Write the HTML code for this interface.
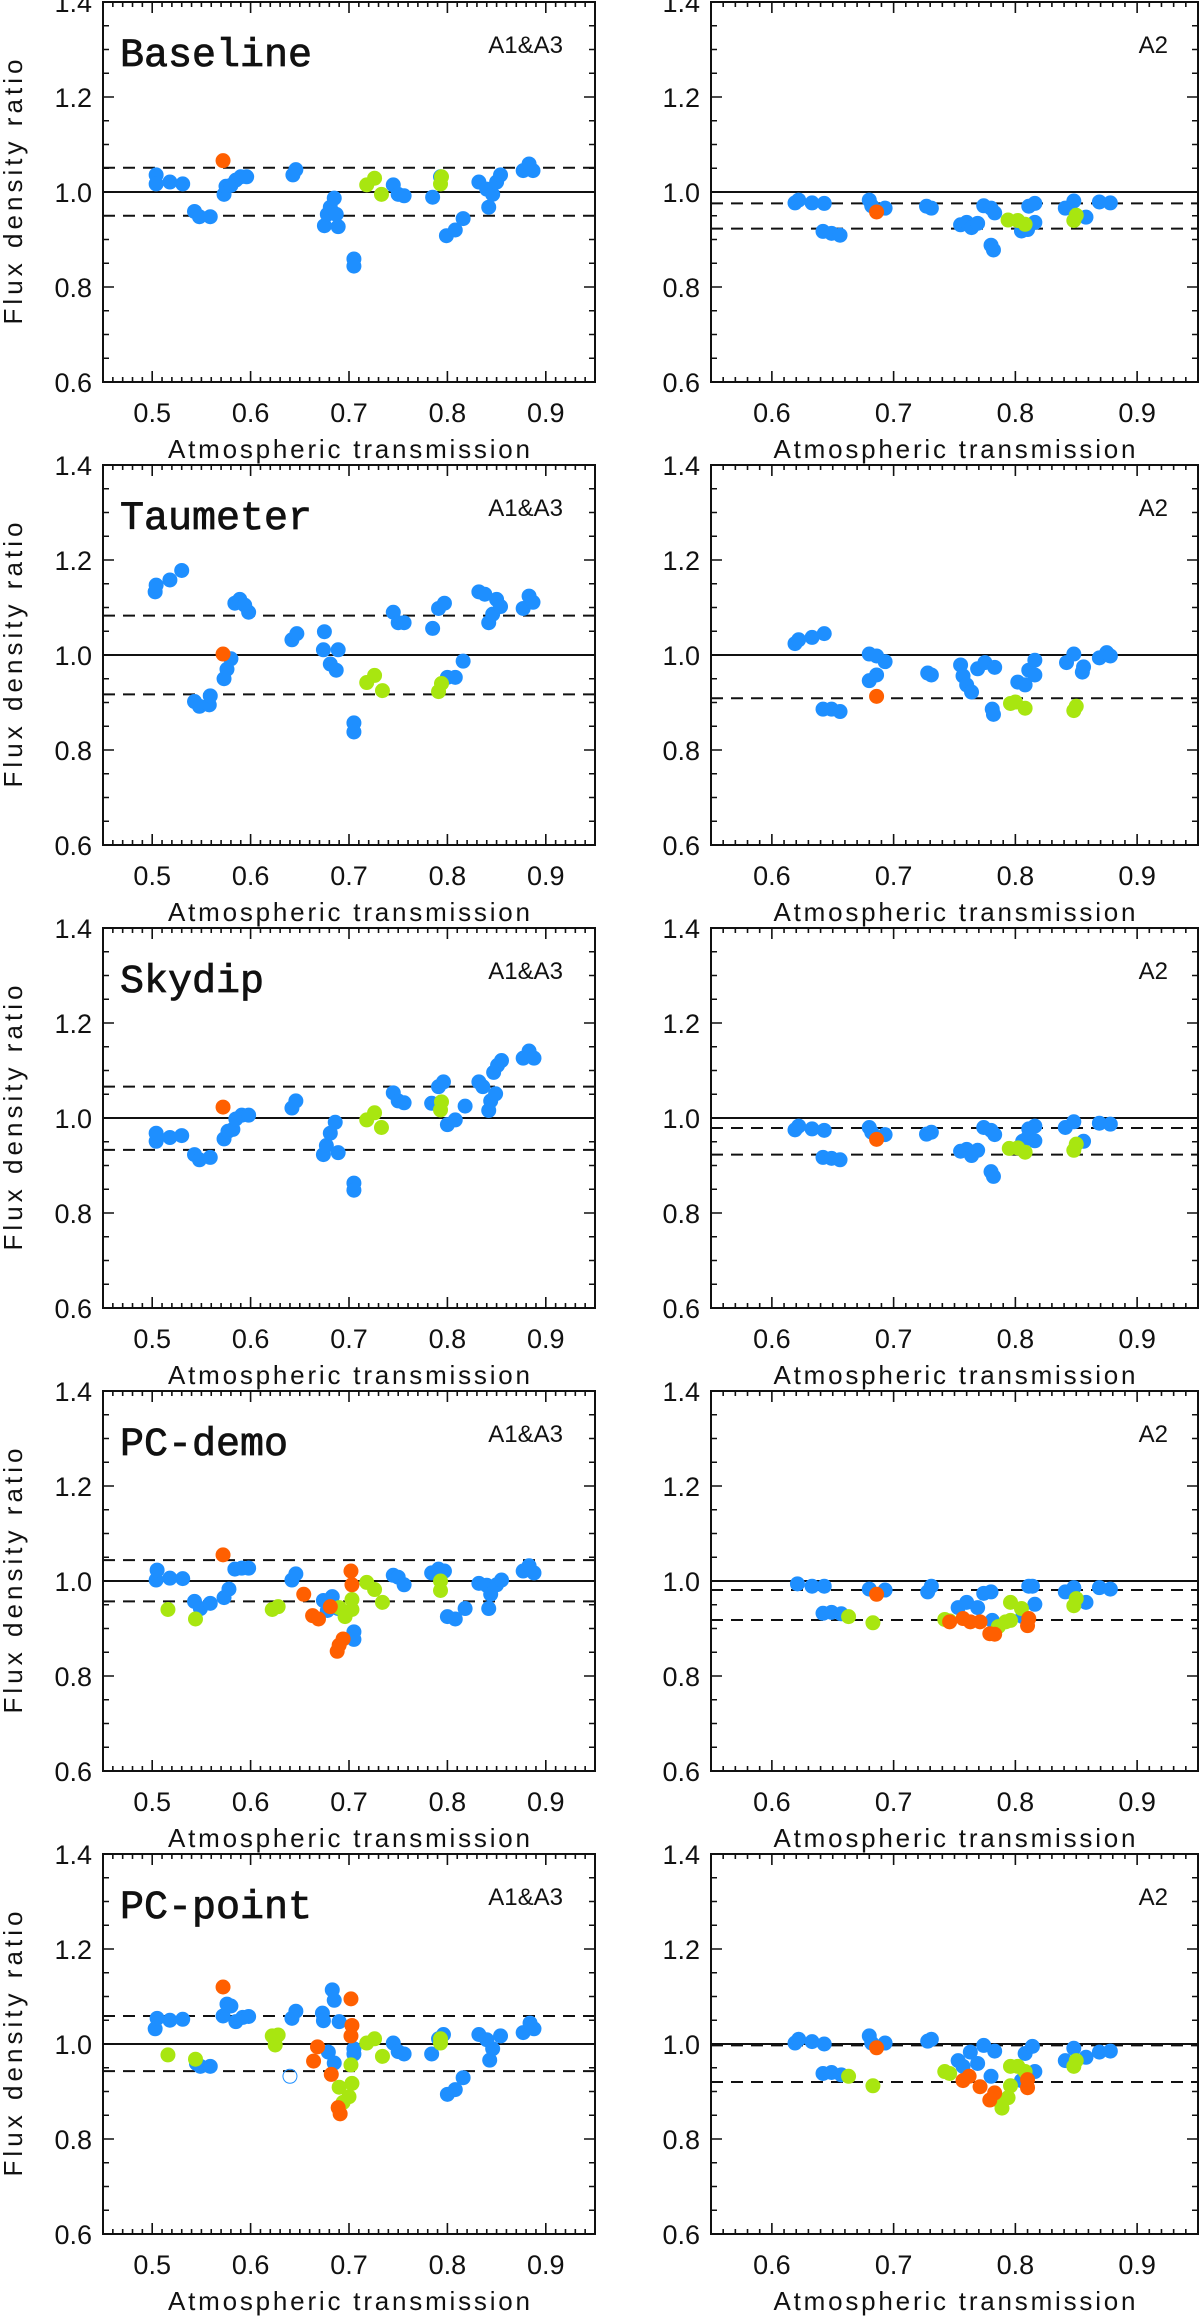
<!DOCTYPE html>
<html><head><meta charset="utf-8"><title>Flux density ratio vs atmospheric transmission</title>
<style>html,body{margin:0;padding:0;background:#fff}svg{display:block}</style></head>
<body>
<svg id="fig" xmlns="http://www.w3.org/2000/svg" width="1200" height="2316" viewBox="0 0 1200 2316"></svg>
<script>
// ---------- DATA ----------
const yTicks = [0.6, 0.8, 1.0, 1.2, 1.4];
const yTickLabels = ["0.6", "0.8", "1.0", "1.2", "1.4"];
const xTicksLeft = [0.5, 0.6, 0.7, 0.8, 0.9];
const xTickLabelsLeft = ["0.5", "0.6", "0.7", "0.8", "0.9"];
const xTicksRight = [0.6, 0.7, 0.8, 0.9];
const xTickLabelsRight = ["0.6", "0.7", "0.8", "0.9"];
const panelTitles = ["Baseline", "Taumeter", "Skydip", "PC-demo", "PC-point"];

// Row 1 Baseline A1&A3
const baseL_blue = [[.504,1.036],[.504,1.017],[.518,1.021],[.531,1.017],[.543,.959],[.548,.948],[.559,.948],[.573,.995],[.575,1.012],[.580,1.014],[.585,1.025],[.590,1.032],[.596,1.032],[.643,1.036],[.646,1.047],[.675,.929],[.678,.953],[.681,.968],[.685,.987],[.687,.953],[.689,.927],[.705,.859],[.705,.844],[.745,1.015],[.750,.995],[.756,.992],[.785,.989],[.793,1.032],[.799,.908],[.808,.920],[.816,.944],[.832,1.021],[.840,1.006],[.842,.968],[.846,.995],[.850,1.021],[.854,1.036],[.877,1.045],[.883,1.059],[.887,1.045]];
const baseL_orange = [[.572,1.066]];
const baseL_green = [[.718,1.015],[.726,1.029],[.733,.995],[.793,1.017],[.794,1.032]];
const baseL_dash = [1.051, .950];
// Row 1 Baseline A2
const baseR_blue = [[.619,.977],[.622,.983],[.633,.977],[.643,.976],[.642,.917],[.649,.913],[.656,.909],[.680,.983],[.682,.971],[.693,.966],[.727,.970],[.731,.966],[.755,.931],[.760,.936],[.764,.925],[.769,.934],[.774,.971],[.780,.966],[.783,.956],[.780,.888],[.782,.878],[.805,.918],[.810,.921],[.811,.970],[.816,.976],[.816,.936],[.841,.966],[.848,.981],[.858,.947],[.869,.979],[.878,.977]];
const baseR_orange = [[.686,.958]];
const baseR_green = [[.794,.941],[.802,.940],[.808,.932],[.848,.940],[.850,.951]];
const baseR_dash = [.976, .923];

// Row 2 Taumeter A1&A3
const tauL_blue = [[.503,1.133],[.504,1.147],[.518,1.158],[.530,1.178],[.543,.902],[.548,.892],[.558,.895],[.559,.914],[.573,.950],[.576,.970],[.580,.992],[.584,1.109],[.589,1.117],[.594,1.105],[.598,1.090],[.642,1.032],[.647,1.045],[.675,1.049],[.674,1.011],[.681,.981],[.687,.968],[.689,1.011],[.705,.857],[.705,.838],[.745,1.090],[.750,1.068],[.756,1.068],[.785,1.056],[.791,1.098],[.797,1.109],[.800,.953],[.808,.953],[.816,.987],[.832,1.133],[.838,1.128],[.842,1.068],[.846,1.086],[.850,1.117],[.854,1.102],[.877,1.098],[.883,1.124],[.887,1.111]];
const tauL_orange = [[.572,1.002]];
const tauL_green = [[.718,.942],[.726,.957],[.734,.925],[.791,.923],[.794,.940]];
const tauL_dash = [1.083, .917];
// Row 2 Taumeter A2
const tauR_blue = [[.619,1.024],[.622,1.032],[.633,1.037],[.643,1.045],[.642,.886],[.649,.886],[.656,.881],[.680,1.002],[.686,.998],[.693,.986],[.680,.946],[.686,.958],[.728,.962],[.731,.958],[.755,.979],[.757,.956],[.760,.937],[.764,.922],[.769,.971],[.775,.984],[.783,.974],[.781,.886],[.782,.875],[.802,.943],[.808,.937],[.811,.968],[.816,.989],[.816,.958],[.842,.984],[.848,1.002],[.856,.975],[.855,.964],[.869,.994],[.875,1.005],[.878,.998]];
const tauR_orange = [[.686,.913]];
const tauR_green = [[.796,.898],[.800,.901],[.808,.888],[.848,.883],[.850,.892]];
const tauR_dash = [.909];

// Row 3 Skydip A1&A3
const skyL_blue = [[.504,.951],[.504,.968],[.518,.959],[.530,.963],[.543,.923],[.548,.912],[.559,.917],[.573,.956],[.577,.972],[.582,.976],[.585,.998],[.591,1.006],[.598,1.006],[.642,1.021],[.646,1.036],[.674,.923],[.677,.942],[.681,.968],[.686,.991],[.689,.927],[.705,.863],[.705,.848],[.745,1.053],[.750,1.036],[.756,1.032],[.784,1.031],[.791,1.066],[.796,1.076],[.800,.986],[.808,.996],[.818,1.025],[.832,1.076],[.836,1.066],[.842,1.016],[.844,1.036],[.849,1.051],[.847,1.096],[.851,1.111],[.855,1.121],[.877,1.126],[.883,1.141],[.888,1.126]];
const skyL_orange = [[.572,1.023]];
const skyL_green = [[.718,.996],[.726,1.011],[.733,.980],[.793,1.017],[.794,1.034]];
const skyL_dash = [1.066, .933];
// Row 3 Skydip A2
const skyR_blue = [[.619,.975],[.622,.983],[.633,.977],[.643,.974],[.642,.917],[.649,.915],[.656,.912],[.680,.980],[.682,.970],[.693,.965],[.727,.966],[.731,.970],[.755,.930],[.760,.934],[.764,.921],[.769,.932],[.774,.980],[.780,.974],[.783,.965],[.780,.887],[.782,.877],[.806,.951],[.810,.958],[.811,.977],[.816,.983],[.816,.952],[.841,.980],[.848,.992],[.856,.951],[.869,.989],[.878,.987]];
const skyR_orange = [[.686,.955]];
const skyR_green = [[.795,.936],[.802,.937],[.808,.928],[.848,.932],[.850,.945]];
const skyR_dash = [.979, .923];

// Row 4 PC-demo A1&A3
const demoL_blue = [[.504,1.002],[.505,1.023],[.518,1.006],[.531,1.005],[.543,.957],[.549,.942],[.559,.953],[.573,.965],[.578,.983],[.584,1.025],[.591,1.027],[.598,1.027],[.642,1.002],[.646,1.015],[.674,.959],[.678,.938],[.683,.967],[.689,.942],[.705,.893],[.705,.877],[.745,1.012],[.750,1.008],[.756,.992],[.784,1.017],[.791,1.025],[.797,1.021],[.800,.925],[.808,.920],[.818,.942],[.832,.995],[.840,.991],[.842,.942],[.844,.972],[.850,.992],[.855,1.002],[.877,1.021],[.883,1.032],[.888,1.017]];
const demoL_orange = [[.572,1.055],[.654,.972],[.663,.927],[.669,.920],[.681,.946],[.688,.852],[.690,.865],[.694,.878],[.702,1.021],[.703,.992]];
const demoL_green = [[.516,.940],[.544,.920],[.622,.940],[.628,.946],[.690,.944],[.696,.925],[.703,.961],[.703,.940],[.718,.997],[.726,.982],[.734,.955],[.793,1.000],[.793,.980]];
const demoL_dash = [1.044, .957];
// Row 4 PC-demo A2
const demoR_blue = [[.621,.994],[.633,.989],[.643,.989],[.642,.932],[.649,.934],[.657,.931],[.680,.983],[.693,.981],[.728,.977],[.731,.989],[.753,.944],[.760,.955],[.769,.944],[.774,.974],[.780,.977],[.781,.917],[.806,.925],[.811,.989],[.814,.989],[.816,.951],[.841,.977],[.848,.986],[.858,.955],[.869,.986],[.878,.983]];
const demoR_orange = [[.686,.972],[.746,.914],[.757,.921],[.763,.914],[.771,.914],[.779,.889],[.783,.888],[.810,.906],[.811,.921]];
const demoR_green = [[.663,.925],[.683,.912],[.742,.919],[.746,.916],[.786,.904],[.792,.914],[.796,.955],[.796,.917],[.805,.942],[.848,.948],[.850,.963]];
const demoR_dash = [.981, .918];

// Row 5 PC-point A1&A3
const pointL_blue = [[.503,1.032],[.505,1.054],[.518,1.050],[.531,1.052],[.545,.959],[.549,.953],[.559,.953],[.572,1.059],[.576,1.084],[.580,1.080],[.585,1.047],[.592,1.056],[.598,1.058],[.642,1.054],[.646,1.069],[.673,1.065],[.674,1.049],[.683,1.114],[.685,1.092],[.679,.983],[.685,.960],[.690,1.047],[.705,.990],[.705,.979],[.745,1.002],[.750,.984],[.756,.979],[.784,.979],[.791,1.011],[.796,1.020],[.800,.894],[.808,.904],[.816,.929],[.832,1.020],[.840,1.009],[.843,.966],[.846,.990],[.854,1.017],[.877,1.024],[.884,1.044],[.888,1.032]];
const pointL_orange = [[.572,1.120],[.664,.964],[.668,.994],[.682,.936],[.689,.866],[.691,.853],[.702,1.095],[.703,1.039],[.702,1.017]];
const pointL_green = [[.516,.977],[.544,.968],[.622,1.017],[.625,.998],[.628,1.019],[.690,.909],[.694,.877],[.700,.889],[.703,.917],[.702,.956],[.718,1.002],[.726,1.011],[.734,.974],[.793,1.011],[.793,1.002]];
const pointL_open = [[.640,.932]];
const pointL_dash = [1.059, .943];
// Row 5 PC-point A2
const pointR_blue = [[.619,1.002],[.622,1.010],[.633,1.005],[.643,1.000],[.642,.938],[.649,.940],[.657,.935],[.680,1.017],[.682,1.002],[.693,1.002],[.728,1.006],[.731,1.010],[.753,.965],[.757,.953],[.763,.983],[.769,.959],[.774,.997],[.783,.985],[.780,.932],[.805,.923],[.808,.980],[.814,.995],[.816,.942],[.841,.965],[.848,.991],[.858,.972],[.869,.983],[.878,.985]];
const pointR_orange = [[.686,.992],[.757,.923],[.762,.932],[.771,.910],[.779,.882],[.783,.897],[.810,.908],[.810,.925]];
const pointR_green = [[.663,.932],[.683,.912],[.742,.942],[.746,.938],[.786,.882],[.789,.865],[.794,.887],[.796,.912],[.796,.953],[.802,.953],[.808,.942],[.848,.953],[.850,.965]];
const pointR_dash = [.997, .920];

// ---------- DRAWING ----------
const NS = "http://www.w3.org/2000/svg";
const svg = document.getElementById("fig");
const BLUE = "#1e8fff", ORANGE = "#ff5f00", GREEN = "#a8e610";
function mk(tag, attrs, parent) {
  const e = document.createElementNS(NS, tag);
  for (const k in attrs) e.setAttribute(k, attrs[k]);
  (parent || svg).appendChild(e);
  return e;
}
const cols = [
  {x0: 103, x1: 595, xmin: 0.45, xmax: 0.95, ticks: xTicksLeft, labels: xTickLabelsLeft, tag: "A1&A3", tagX: 563},
  {x0: 711, x1: 1198, xmin: 0.55, xmax: 0.95, ticks: xTicksRight, labels: xTickLabelsRight, tag: "A2", tagX: 1168}
];
const ROW_STEP = 463, ROW_TOP = 2, PH = 380;

function drawPanel(r, c, blue, orange, green, dashes, openPts) {
  const col = cols[c];
  const top = ROW_TOP + ROW_STEP * r, bot = top + PH;
  const sx = v => col.x0 + (v - col.xmin) / (col.xmax - col.xmin) * (col.x1 - col.x0);
  const sy = v => bot - (v - 0.6) / 0.8 * PH;
  const g = mk("g", {});
  
  

  const ref = mk("line", {x1: col.x0, x2: col.x1, y1: sy(1.0), y2: sy(1.0), stroke: "#111", "stroke-width": 2}, g);
  
  
  dashes.forEach(d => {
    const l = mk("line", {x1: col.x0, x2: col.x1, y1: sy(d), y2: sy(d), stroke: "#111", "stroke-width": 2, "stroke-dasharray": "12 8"}, g);
    
    
  });

  const series = [[blue, BLUE, 'blue'], [green, GREEN, 'green'], [orange, ORANGE, 'orange']];
  series.forEach(([pts, color, nm]) => {
    pts.forEach(p => {
      const ci = mk("circle", {cx: sx(p[0]), cy: sy(p[1]), r: 7.5, fill: color}, g);
      
      
    });
  });
  (openPts || []).forEach(p => {
    const ci = mk("circle", {cx: sx(p[0]), cy: sy(p[1]), r: 7, fill: "none", stroke: BLUE, "stroke-width": 1}, g);
    
    
  });

  const fr = mk("rect", {x: col.x0, y: top, width: col.x1 - col.x0, height: PH, fill: "none", stroke: "#111", "stroke-width": 2}, g);
  
  

  let d = "";
  for (let i = 0; i <= 16; i++) {
    const v = 0.6 + i * 0.05, y = sy(v), L = (i % 4 === 0) ? 11 : 6;
    d += `M${col.x0},${y}h${L}M${col.x1},${y}h${-L}`;
  }
  for (let k = Math.round(col.xmin * 100); k <= Math.round(col.xmax * 100); k++) {
    const x = sx(k / 100), L = (k % 10 === 0) ? 11 : 5;
    d += `M${x},${bot}v${-L}M${x},${top}v${L}`;
  }
  const tk = mk("path", {d: d, stroke: "#111", "stroke-width": 1.6, fill: "none"}, g);
  
  

  yTicks.forEach((v, i) => {
    const t = mk("text", {x: col.x0 - 11, y: sy(v) + 10, "text-anchor": "end", "font-size": 27, "font-family": "Liberation Sans, sans-serif", fill: "#111"}, g);
    t.textContent = yTickLabels[i];
    
    
  });
  col.ticks.forEach((v, i) => {
    const t = mk("text", {x: sx(v), y: bot + 40, "text-anchor": "middle", "font-size": 27, "font-family": "Liberation Sans, sans-serif", fill: "#111"}, g);
    t.textContent = col.labels[i];
    
    
  });

  const xt = mk("text", {x: (col.x0 + col.x1) / 2, y: bot + 76, "text-anchor": "middle", "font-size": 26, "font-family": "Liberation Sans, sans-serif", fill: "#111", textLength: 362, lengthAdjust: "spacing"}, g);
  xt.textContent = "Atmospheric transmission";
  
  
  if (c === 0) {
    const cy = top + 190;
    const yt = mk("text", {x: 0, y: 0, transform: `translate(22,${cy}) rotate(-90)`, "text-anchor": "middle", "font-size": 26, "font-family": "Liberation Sans, sans-serif", fill: "#111", textLength: 265, lengthAdjust: "spacing"}, g);
    yt.textContent = "Flux density ratio";
    
    
    const tt = mk("text", {x: 120, y: top + 64, "font-size": 40, "font-family": "Liberation Mono, monospace", fill: "#111", stroke: "#111", "stroke-width": 0.8}, g);
    tt.textContent = panelTitles[r];
    
    
  }
  const tg = mk("text", {x: col.tagX, y: top + 51, "text-anchor": "end", "font-size": 24, "font-family": "Liberation Sans, sans-serif", fill: "#111"}, g);
  tg.textContent = col.tag;
  
  
}

drawPanel(0, 0, baseL_blue, baseL_orange, baseL_green, baseL_dash);
drawPanel(0, 1, baseR_blue, baseR_orange, baseR_green, baseR_dash);
drawPanel(1, 0, tauL_blue, tauL_orange, tauL_green, tauL_dash);
drawPanel(1, 1, tauR_blue, tauR_orange, tauR_green, tauR_dash);
drawPanel(2, 0, skyL_blue, skyL_orange, skyL_green, skyL_dash);
drawPanel(2, 1, skyR_blue, skyR_orange, skyR_green, skyR_dash);
drawPanel(3, 0, demoL_blue, demoL_orange, demoL_green, demoL_dash);
drawPanel(3, 1, demoR_blue, demoR_orange, demoR_green, demoR_dash);
drawPanel(4, 0, pointL_blue, pointL_orange, pointL_green, pointL_dash, pointL_open);
drawPanel(4, 1, pointR_blue, pointR_orange, pointR_green, pointR_dash);
</script>
</body></html>
